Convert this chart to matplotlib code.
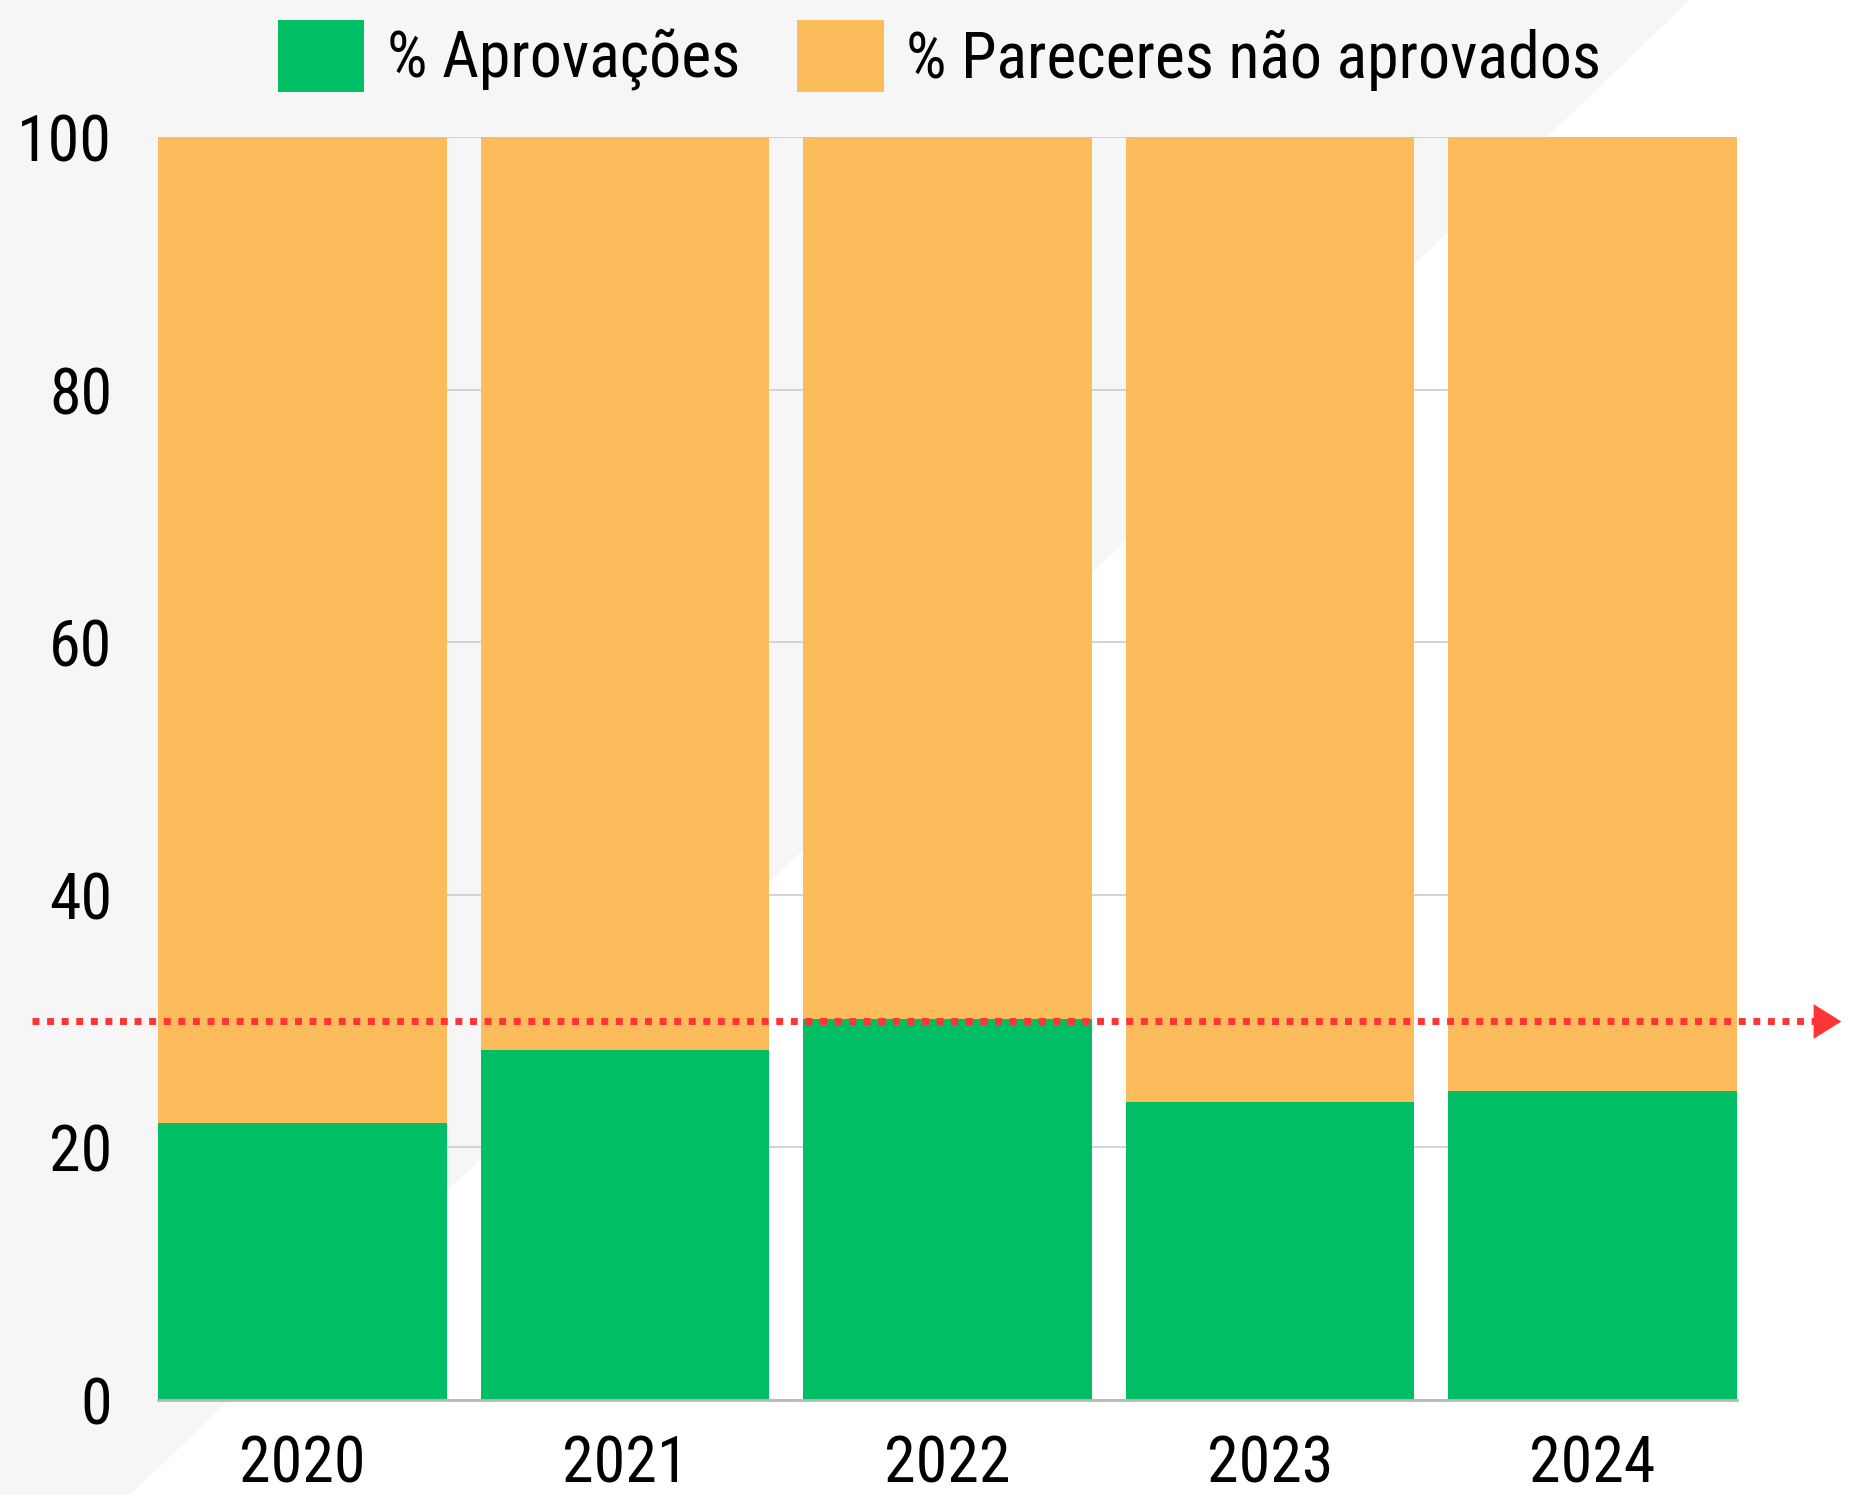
import numpy as np
import matplotlib.pyplot as plt
from matplotlib import font_manager
from matplotlib.patches import Polygon

# dados
anos = ['2020', '2021', '2022', '2023', '2024']
aprovacoes = [21.9, 27.7, 30.2, 23.6, 24.5]
nao_aprovados = [100 - v for v in aprovacoes]
meta = 30

# fonte estreita, se houver
nomes = {f.name for f in font_manager.fontManager.ttflist}
fonte = 'DejaVu Sans'
for cand in ['Noto Sans ExtraCondensed', 'Roboto Condensed', 'Noto Sans Condensed',
             'Liberation Sans Narrow', 'Open Sans Condensed', 'DejaVu Sans Condensed']:
    if cand in nomes:
        fonte = cand
        break
plt.rcParams['font.family'] = [fonte, 'DejaVu Sans']
plt.rcParams['font.stretch'] = 'condensed'

verde = '#00be64'
laranja = '#fdbc5b'
vermelho = '#ff3535'

fig = plt.figure(figsize=(18.64, 14.95), dpi=100, facecolor='#ffffff')
fig.patches.append(Polygon([(0, 0), (130 / 1864, 0), (1690 / 1864, 1), (0, 1)],
                           closed=True, transform=fig.transFigure,
                           facecolor='#f6f6f6', edgecolor='none', zorder=-10))

ax = fig.add_axes([158 / 1864, 1 - 1400 / 1495, 1579 / 1864, 1263 / 1495])
ax.patch.set_alpha(0)

x = np.arange(len(anos))
w = 0.896
b1 = ax.bar(x, aprovacoes, width=w, color=verde, label='% Aprovações', zorder=3)
b2 = ax.bar(x, nao_aprovados, width=w, bottom=aprovacoes, color=laranja,
            label='% Pareceres não aprovados', zorder=3)

ax.set_xlim(-w / 2, len(anos) - 1 + w / 2)
ax.set_ylim(0, 100)
ax.set_yticks([0, 20, 40, 60, 80, 100])
ax.set_xticks(x)
ax.set_xticklabels(anos)
ax.yaxis.grid(True, color='#d0d0d0', lw=1.3, zorder=1)
ax.set_axisbelow(True)
ax.tick_params(axis='both', length=0, labelsize=46)
ax.tick_params(axis='y', pad=33)
ax.tick_params(axis='x', pad=24)
for s in ['left', 'right', 'top']:
    ax.spines[s].set_visible(False)
ax.spines['bottom'].set_color('#b8b8b8')
ax.spines['bottom'].set_linewidth(2)
ax.spines['bottom'].set_zorder(4)

# linha de referência pontilhada com seta
px = (len(anos) - 1 + w) / 1579
x0 = -w / 2 - 126 * px
x1 = len(anos) - 1 + w / 2 + 80 * px
ax.plot([x0, x1], [meta, meta], color=vermelho, lw=5, linestyle=(0, (1, 1.1)),
        clip_on=False, zorder=5, solid_capstyle='butt', dash_capstyle='butt')
ax.plot([len(anos) - 1 + w / 2 + 90 * px], [meta], marker=[(-0.8, -1), (0.8, 0), (-0.8, 1)],
        markersize=25, color=vermelho, markeredgewidth=0, clip_on=False, zorder=5)

fig.legend(handles=[b1, b2], loc='upper center', bbox_to_anchor=(0.504, 1.012), ncol=2,
           frameon=False, fontsize=46, handlelength=1.35, handleheight=1.35,
           handletextpad=0.35, columnspacing=0.9, borderaxespad=0.2)

fig.savefig('out.png', dpi=100, facecolor=fig.get_facecolor())
